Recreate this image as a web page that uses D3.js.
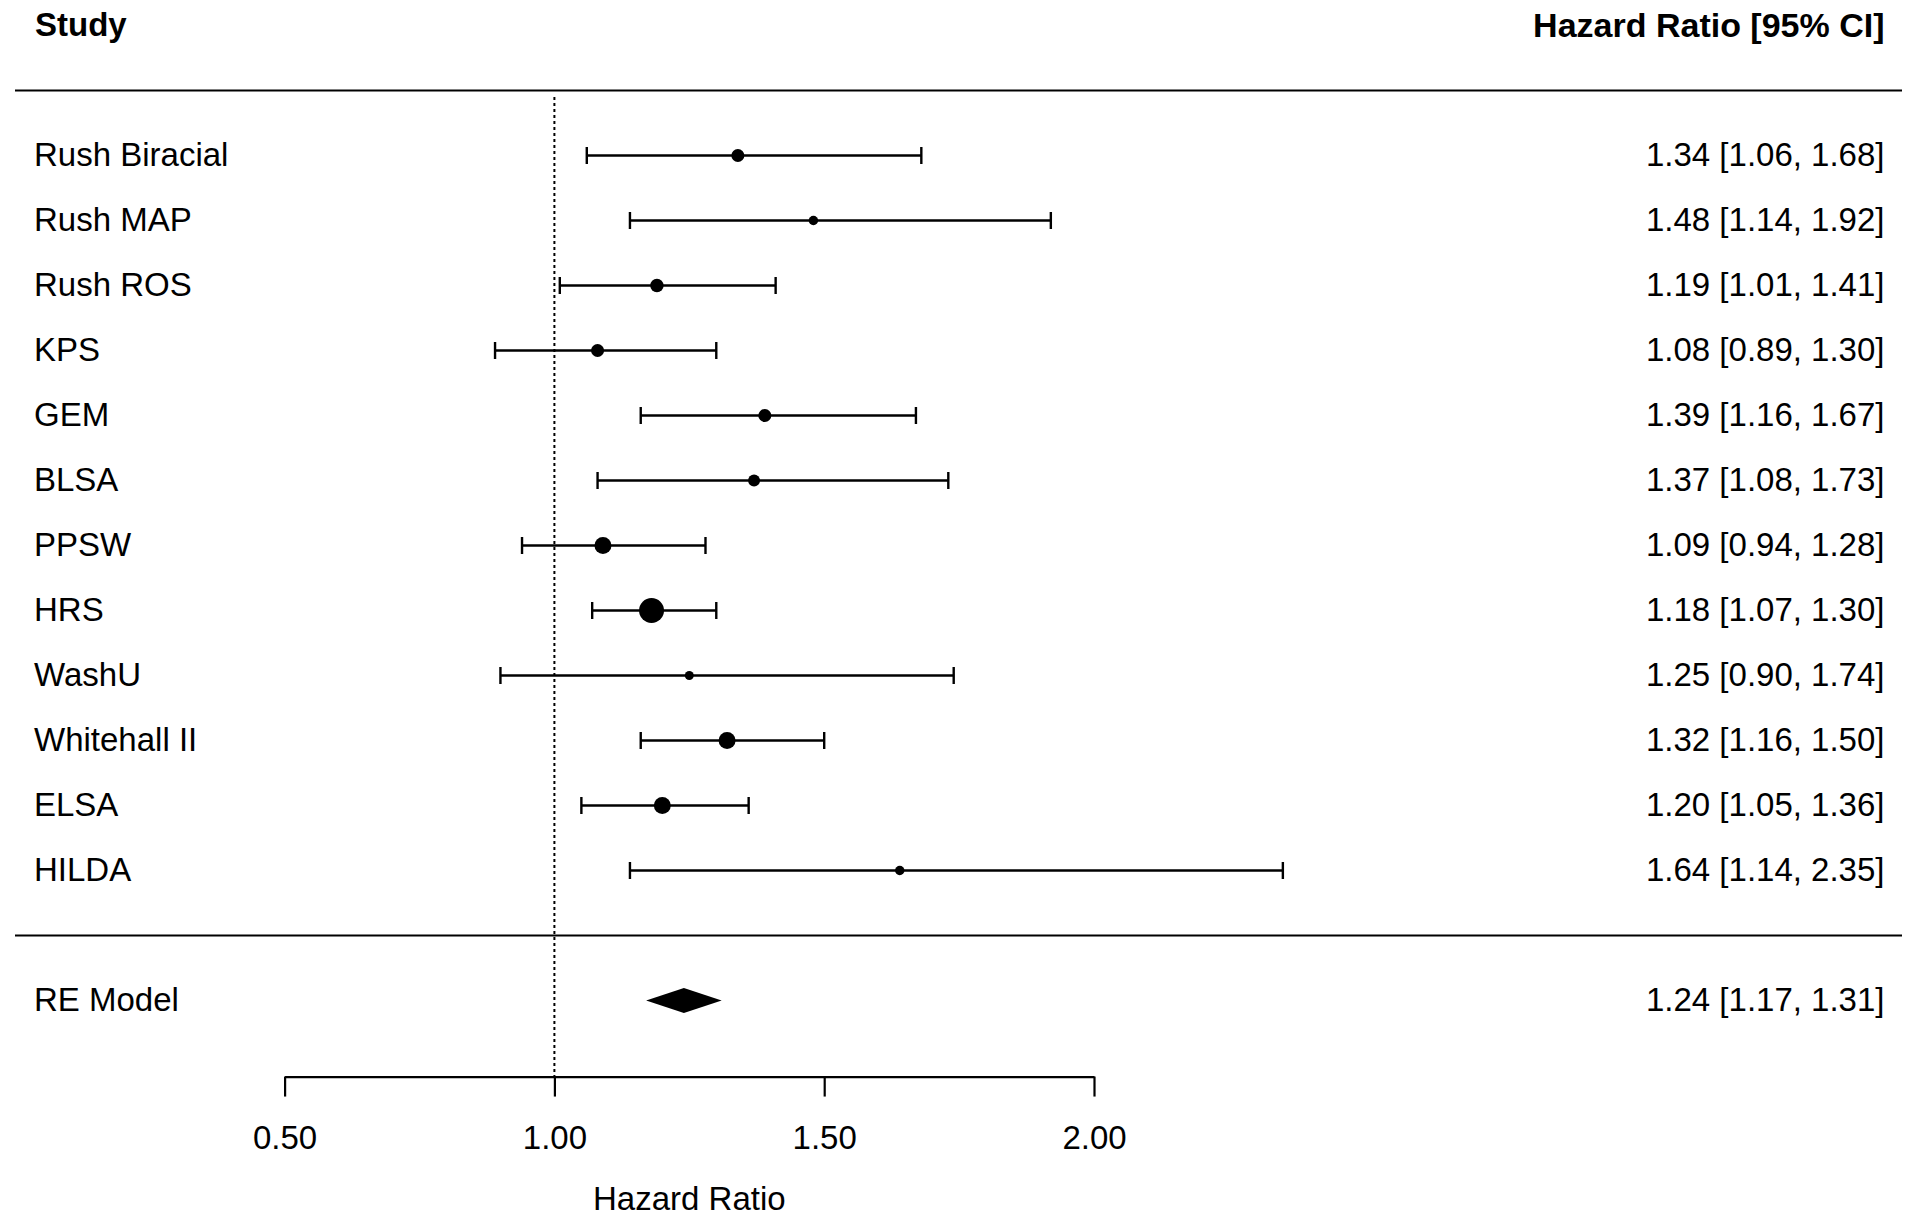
<!DOCTYPE html>
<html>
<head>
<meta charset="utf-8">
<script src="https://cdn.jsdelivr.net/npm/d3@7"></script>
<style>
  html, body { margin: 0; padding: 0; background: #fff; }
  svg text { font-family: "Liberation Sans", Arial, sans-serif; fill: #000; }
</style>
</head>
<body>
<svg id="chart" width="1920" height="1216"></svg>
<script>
// ---- data ----
const studies = ["Rush Biracial", "Rush MAP", "Rush ROS", "KPS", "GEM", "BLSA", "PPSW", "HRS", "WashU", "Whitehall II", "ELSA", "HILDA"];
const hr    = [1.34, 1.48, 1.19, 1.08, 1.39, 1.37, 1.09, 1.18, 1.25, 1.32, 1.20, 1.64];
const lower = [1.06, 1.14, 1.01, 0.89, 1.16, 1.08, 0.94, 1.07, 0.90, 1.16, 1.05, 1.14];
const upper = [1.68, 1.92, 1.41, 1.30, 1.67, 1.73, 1.28, 1.30, 1.74, 1.50, 1.36, 2.35];
// relative study weights
const weights = [7.3, 4.4, 7.6, 7.3, 7.3, 6.4, 10.5, 17.0, 4.0, 10.5, 10.5, 4.4];
const summaryLabel = "RE Model";
const summary = { est: 1.24, lo: 1.17, hi: 1.31 };
const xTicks = [0.5, 1.0, 1.5, 2.0];
const xLabel = "Hazard Ratio";
const headerLeft = "Study";
const headerRight = "Hazard Ratio [95% CI]";

// ---- layout ----
const svg = d3.select("#chart");
const fs = 33;
const x = d3.scaleLinear().domain([0.5, 2.0]).range([284.6, 1094]);
// row scale: study rows 0..11, separator 12, summary 13, headers -2, top rule -1
const y = d3.scaleLinear().domain([0, 1]).range([155.5, 220.5]);
const size = d3.scaleLinear().domain([4, 17]).range([9, 25]);
const fmt = d3.format(".2f");
const leftX = 34, rightX = 1884.5;
const axisY = y(14.17);
const dyc = "0.33em";

// headers
svg.append("text").attr("x", leftX + 1).attr("y", y(-2)).attr("dy", dyc)
  .attr("font-size", fs).attr("font-weight", "bold").text(headerLeft);
svg.append("text").attr("x", rightX).attr("y", y(-2)).attr("dy", dyc)
  .attr("text-anchor", "end").attr("font-size", 34).attr("font-weight", "bold").text(headerRight);

// rules
[-1, 12].forEach(r => {
  svg.append("line").attr("x1", 15).attr("x2", 1902).attr("y1", y(r)).attr("y2", y(r))
    .attr("stroke", "#000").attr("stroke-width", 2.2);
});

// reference line
svg.append("line").attr("x1", x(1)).attr("x2", x(1)).attr("y1", y(-0.9)).attr("y2", axisY)
  .attr("stroke", "#000").attr("stroke-width", 2).attr("stroke-dasharray", "3,3");

// study rows
const g = svg.append("g");
studies.forEach((s, i) => {
  const yy = y(i);
  g.append("text").attr("x", leftX).attr("y", yy).attr("dy", dyc).attr("font-size", fs).text(s);
  g.append("text").attr("x", rightX).attr("y", yy).attr("dy", dyc).attr("text-anchor", "end")
    .attr("font-size", fs).text(`${fmt(hr[i])} [${fmt(lower[i])}, ${fmt(upper[i])}]`);
  g.append("line").attr("x1", x(lower[i])).attr("x2", x(upper[i])).attr("y1", yy).attr("y2", yy)
    .attr("stroke", "#000").attr("stroke-width", 2.4);
  [lower[i], upper[i]].forEach(v => {
    g.append("line").attr("x1", x(v)).attr("x2", x(v)).attr("y1", yy - 8.5).attr("y2", yy + 8.5)
      .attr("stroke", "#000").attr("stroke-width", 2.4);
  });
  g.append("circle").attr("cx", x(hr[i])).attr("cy", yy).attr("r", size(weights[i]) / 2).attr("fill", "#000");
});

// summary
const sy = y(13);
const h = 12.5;
svg.append("text").attr("x", leftX).attr("y", sy).attr("dy", dyc).attr("font-size", fs).text(summaryLabel);
svg.append("text").attr("x", rightX).attr("y", sy).attr("dy", dyc).attr("text-anchor", "end")
  .attr("font-size", fs).text(`${fmt(summary.est)} [${fmt(summary.lo)}, ${fmt(summary.hi)}]`);
svg.append("polygon")
  .attr("points", [[x(summary.lo), sy], [x(summary.est), sy - h], [x(summary.hi), sy], [x(summary.est), sy + h]].map(p => p.join(",")).join(" "))
  .attr("fill", "#000");

// axis
const axis = d3.axisBottom(x).tickValues(xTicks).tickFormat(fmt).tickSize(20).tickSizeOuter(0).tickPadding(29);
const ax = svg.append("g").attr("transform", `translate(0,${axisY})`).call(axis);
ax.select(".domain").attr("stroke", "#000").attr("stroke-width", 2.2);
ax.selectAll(".tick line").attr("stroke", "#000").attr("stroke-width", 2.2);
ax.selectAll(".tick text").attr("font-size", fs).attr("font-family", "Liberation Sans, Arial, sans-serif").attr("fill", "#000");

svg.append("text").attr("x", (x(0.5) + x(2)) / 2).attr("y", 1210)
  .attr("text-anchor", "middle").attr("font-size", fs).text(xLabel);
</script>
</body>
</html>
